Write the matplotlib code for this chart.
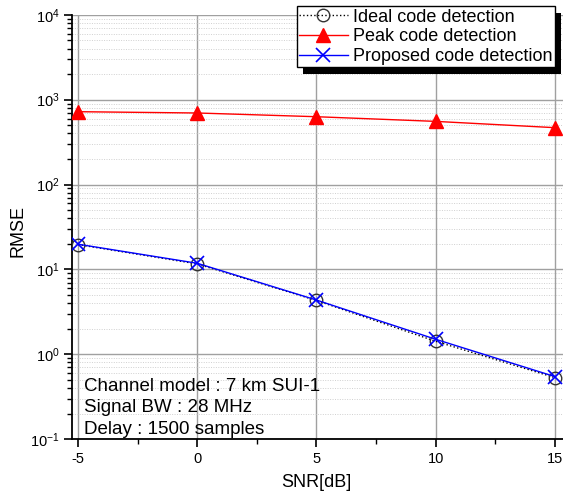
import numpy as np
import matplotlib.pyplot as plt
import matplotlib.patheffects as pe
from matplotlib.ticker import LogLocator, MultipleLocator, NullFormatter

plt.rcParams['font.family'] = ['Liberation Sans', 'DejaVu Sans']
plt.rcParams['axes.unicode_minus'] = False

snr = [-5, 0, 5, 10, 15]
rmse_ideal = [19.6, 11.6, 4.3, 1.42, 0.53]
rmse_peak = [722, 697, 630, 555, 468]
rmse_proposed = [19.8, 11.8, 4.35, 1.5, 0.545]

fig = plt.figure(figsize=(5.63, 4.95), dpi=100)
ax = fig.add_axes([0.128, 0.113, 0.872, 0.857])

ax.semilogy(snr, rmse_ideal, color='black', linestyle=':', linewidth=1,
            marker='o', markersize=9, markerfacecolor='none',
            markeredgecolor='#333333', markeredgewidth=1,
            label='Ideal code detection', zorder=3)
ax.semilogy(snr, rmse_peak, color='red', linewidth=1, marker='^',
            markersize=10, markerfacecolor='red', markeredgecolor='red',
            label='Peak code detection', zorder=4)
ax.semilogy(snr, rmse_proposed, color='blue', linewidth=1, marker='x',
            markersize=10, markeredgewidth=1.2,
            label='Proposed code detection', zorder=5)

ax.set_xlim(-5.25, 15.34)
ax.set_ylim(0.1, 1e4)

ax.xaxis.set_major_locator(MultipleLocator(5))
ax.xaxis.set_minor_locator(MultipleLocator(2.5))
ax.yaxis.set_major_locator(LogLocator(base=10, numticks=10))
ax.yaxis.set_minor_locator(LogLocator(base=10, subs=np.arange(2, 10), numticks=10))
ax.yaxis.set_minor_formatter(NullFormatter())

ax.grid(which='major', color='#a0a0a0', linewidth=1, linestyle='-')
ax.grid(which='minor', axis='y', color='#d0d0d0', linewidth=0.7, linestyle=(0, (1, 1.5)))

ax.spines['top'].set_visible(False)
ax.spines['right'].set_visible(False)
ax.spines['left'].set_linewidth(1.3)
ax.spines['bottom'].set_linewidth(1.3)
ax.tick_params(which='major', direction='out', length=6, width=1.2, labelsize=10.5)
ax.tick_params(which='minor', direction='out', length=3.5, width=1.0)
ax.tick_params(axis='x', pad=3)
ax.tick_params(axis='y', pad=3)

ax.set_xlabel('SNR[dB]', fontsize=13)
ax.set_ylabel('RMSE', fontsize=13)
ax.xaxis.set_label_coords(0.497, -0.082)
ax.yaxis.set_label_coords(-0.092, 0.49)

leg = ax.legend(loc='upper right', bbox_to_anchor=(0.983, 1.02), fontsize=13,
                fancybox=False, framealpha=1, edgecolor='black',
                handlelength=2.7, handletextpad=0.3, borderpad=0.12,
                labelspacing=0.16, borderaxespad=0)
frame = leg.get_frame()
frame.set_linewidth(1)
# solid black drop shadow, offset down-right
frame.set_path_effects([pe.SimplePatchShadow(offset=(4.5, -4.5), shadow_rgbFace='black', alpha=1.0),
                        pe.Normal()])

ax.text(0.024, 0.145, 'Channel model : 7 km SUI-1\nSignal BW : 28 MHz\nDelay : 1500 samples',
        transform=ax.transAxes, fontsize=13.5, linespacing=1.37, va='top', ha='left')

fig.savefig('out.png', dpi=100)
